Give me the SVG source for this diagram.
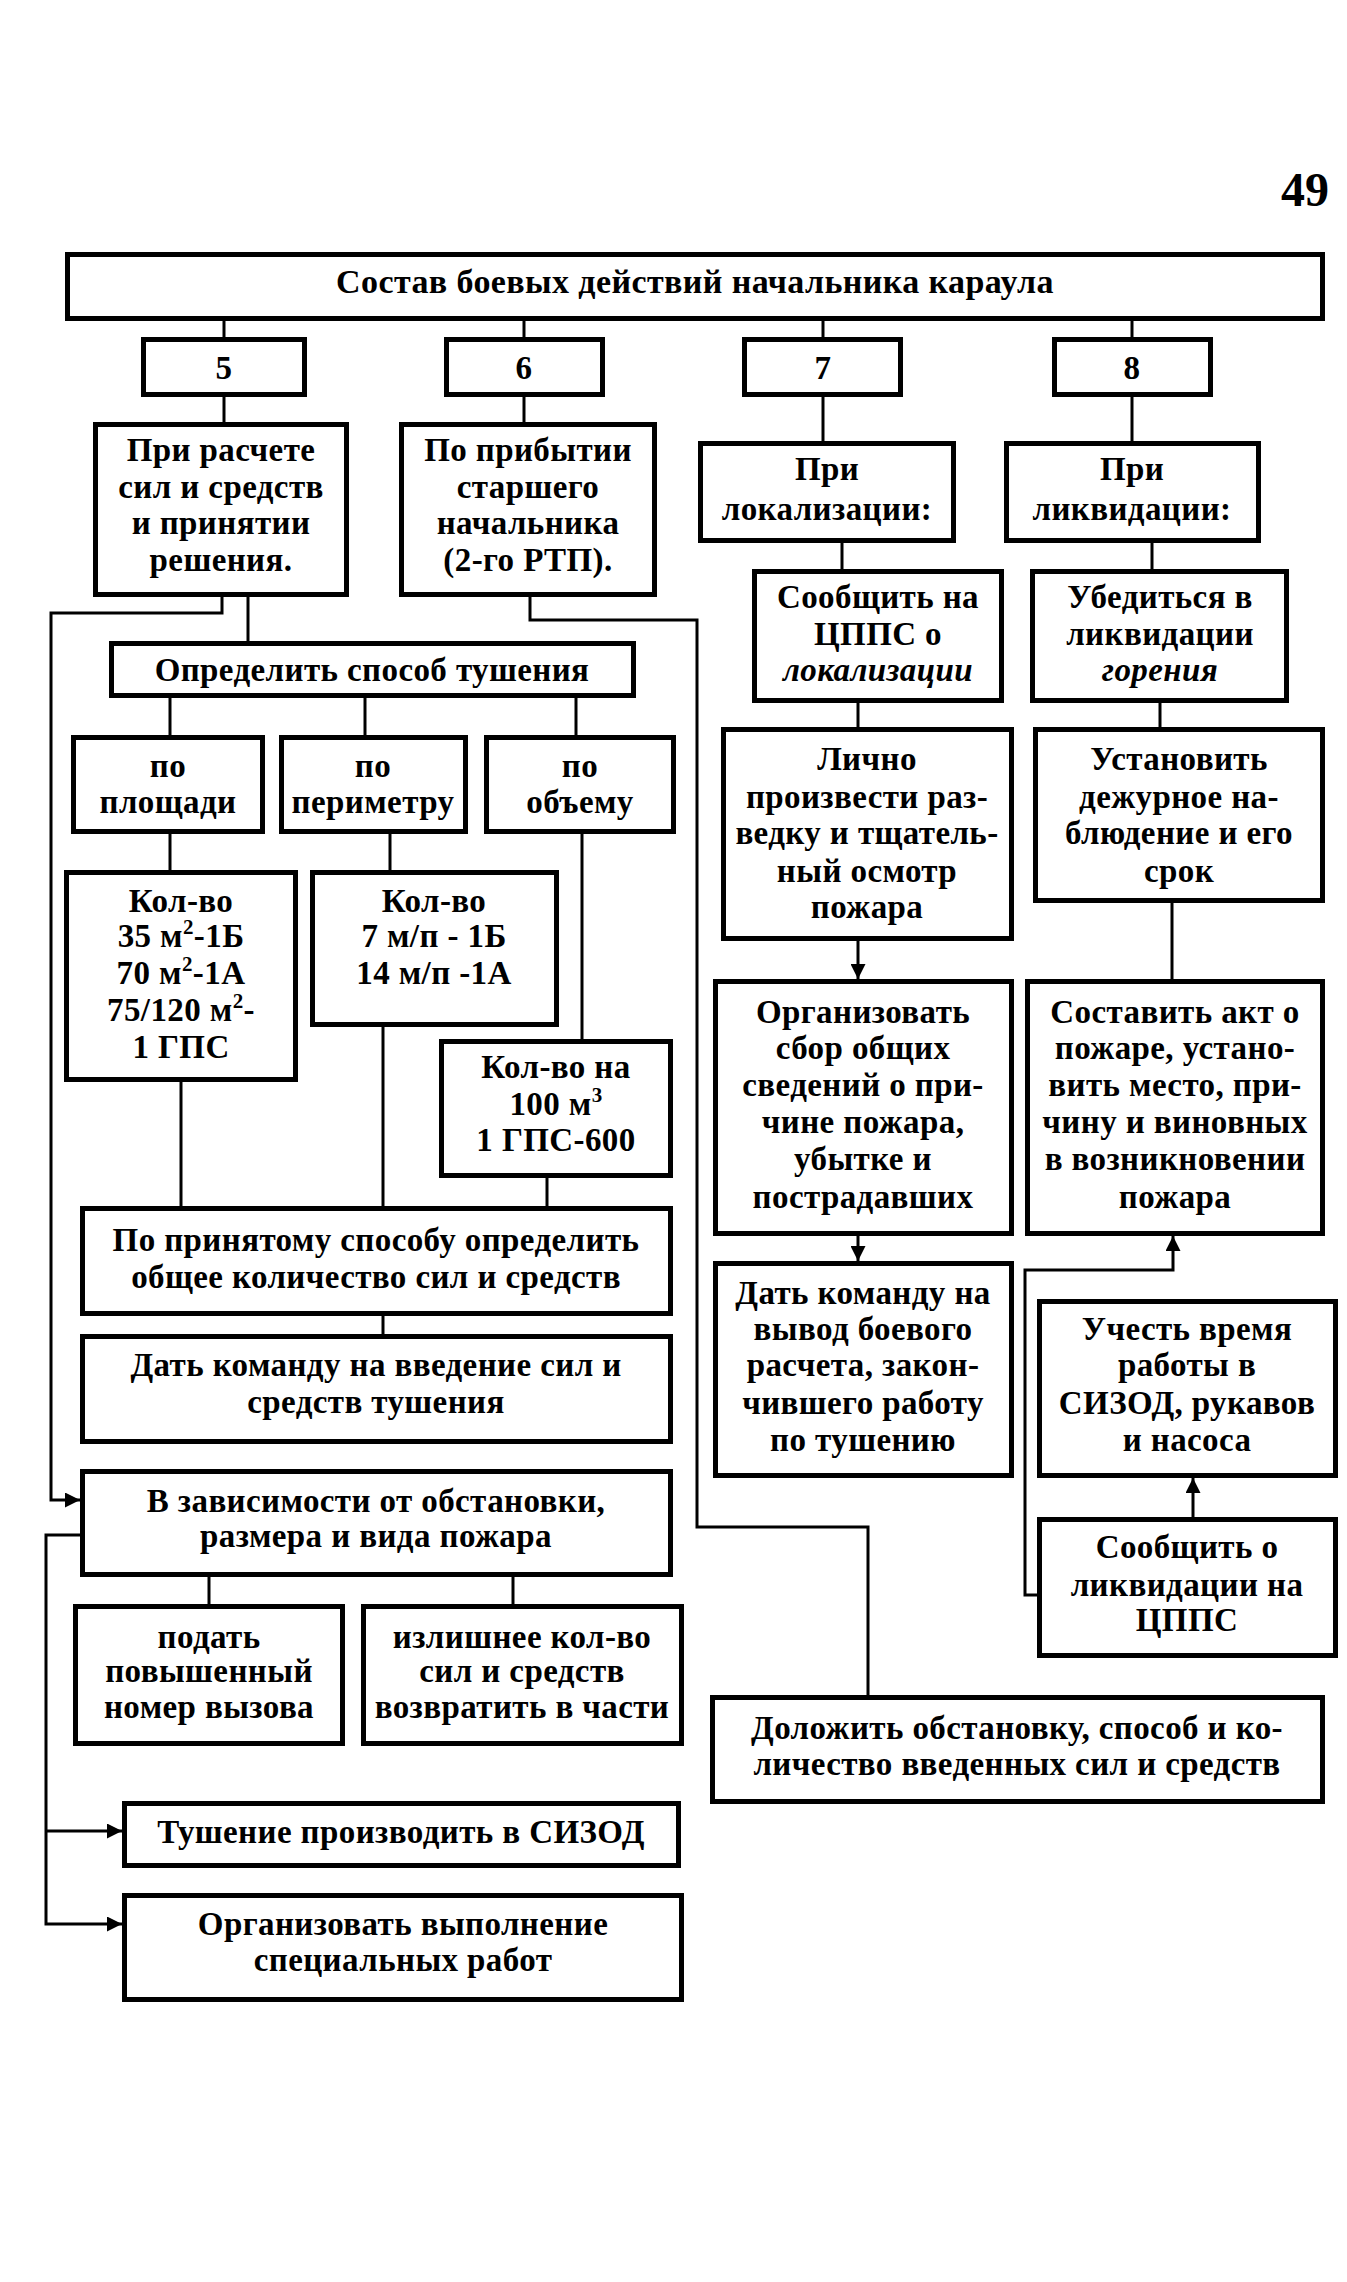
<svg xmlns="http://www.w3.org/2000/svg" width="1347" height="2282" viewBox="0 0 1347 2282">
<defs>
<style>
.box{fill:#fff;stroke:#000;stroke-width:5}
.ln{fill:none;stroke:#000;stroke-width:3}
.t{font-family:"Liberation Serif","Times New Roman",serif;font-weight:bold;font-size:33px;letter-spacing:0.4px;text-anchor:middle;fill:#000}
.i{font-style:italic}
.sup{font-size:21px}
</style>
<marker id="ah" viewBox="0 0 10 10" refX="10" refY="5" markerWidth="5" markerHeight="5" orient="auto" markerUnits="strokeWidth">
<path d="M0,0 L10,5 L0,10 z" fill="#000"/>
</marker>
</defs>
<rect width="1347" height="2282" fill="#fff"/>
<text class="t" x="1305" y="206" style="font-size:48px;letter-spacing:0">49</text>

<g id="connectors">
<path class="ln" d="M224,321 V337"/>
<path class="ln" d="M524,321 V337"/>
<path class="ln" d="M823,321 V337"/>
<path class="ln" d="M1132,321 V337"/>
<path class="ln" d="M224,397 V422"/>
<path class="ln" d="M524,397 V422"/>
<path class="ln" d="M823,397 V441"/>
<path class="ln" d="M1132,397 V441"/>
<path class="ln" d="M842,543 V569"/>
<path class="ln" d="M1152,543 V569"/>
<path class="ln" d="M248,597 V641"/>
<path class="ln" d="M222,597 V613 H51 V1500 H80" marker-end="url(#ah)"/>
<path class="ln" d="M530,597 V620 H697 V1527 H868 V1695"/>
<path class="ln" d="M170,698 V735"/>
<path class="ln" d="M365,698 V735"/>
<path class="ln" d="M576,698 V735"/>
<path class="ln" d="M170,834 V870"/>
<path class="ln" d="M390,834 V870"/>
<path class="ln" d="M582,834 V1039"/>
<path class="ln" d="M181,1082 V1206"/>
<path class="ln" d="M383,1027 V1206"/>
<path class="ln" d="M547,1178 V1206"/>
<path class="ln" d="M383,1316 V1334"/>
<path class="ln" d="M209,1577 V1604"/>
<path class="ln" d="M513,1577 V1604"/>
<path class="ln" d="M80,1535 H46 V1924 H122" marker-end="url(#ah)"/>
<path class="ln" d="M46,1831 H122" marker-end="url(#ah)"/>
<path class="ln" d="M858,703 V727"/>
<path class="ln" d="M1160,703 V727"/>
<path class="ln" d="M858,941 V979" marker-end="url(#ah)"/>
<path class="ln" d="M1172,903 V979"/>
<path class="ln" d="M858,1236 V1261" marker-end="url(#ah)"/>
<path class="ln" d="M1193,1517 V1478" marker-end="url(#ah)"/>
<path class="ln" d="M1037,1595 H1025 V1270 H1173 V1236" marker-end="url(#ah)"/>
</g>

<g id="title"><rect class="box" x="67.5" y="254.5" width="1255" height="64"/><text class="t" x="695" y="293" style="font-size:34px">Состав боевых действий начальника караула</text></g>
<g id="n5"><rect class="box" x="143.5" y="339.5" width="161" height="55"/><text class="t" x="224" y="379">5</text></g>
<g id="n6"><rect class="box" x="446.5" y="339.5" width="156" height="55"/><text class="t" x="524" y="379">6</text></g>
<g id="n7"><rect class="box" x="744.5" y="339.5" width="156" height="55"/><text class="t" x="823" y="379">7</text></g>
<g id="n8"><rect class="box" x="1054.5" y="339.5" width="156" height="55"/><text class="t" x="1132" y="379">8</text></g>

<g id="b5"><rect class="box" x="95.5" y="424.5" width="251" height="170"/>
<text class="t"><tspan x="221" y="461">При расчете</tspan><tspan x="221" y="498">сил и средств</tspan><tspan x="221" y="534">и принятии</tspan><tspan x="221" y="571">решения.</tspan></text></g>
<g id="b6"><rect class="box" x="401.5" y="424.5" width="253" height="170"/>
<text class="t"><tspan x="528" y="461">По прибытии</tspan><tspan x="528" y="498">старшего</tspan><tspan x="528" y="534">начальника</tspan><tspan x="528" y="571">(2-го РТП).</tspan></text></g>
<g id="b7"><rect class="box" x="700.5" y="443.5" width="253" height="97"/>
<text class="t"><tspan x="827" y="480">При</tspan><tspan x="827" y="520">локализации:</tspan></text></g>
<g id="b8"><rect class="box" x="1006.5" y="443.5" width="252" height="97"/>
<text class="t"><tspan x="1132" y="480">При</tspan><tspan x="1132" y="520">ликвидации:</tspan></text></g>
<g id="soobsh_lok"><rect class="box" x="754.5" y="571.5" width="247" height="129"/>
<text class="t"><tspan x="878" y="608">Сообщить на</tspan><tspan x="878" y="645">ЦППС о</tspan><tspan class="i" x="878" y="681">локализации</tspan></text></g>
<g id="ubeditsya"><rect class="box" x="1032.5" y="571.5" width="254" height="129"/>
<text class="t"><tspan x="1160" y="608">Убедиться в</tspan><tspan x="1160" y="645">ликвидации</tspan><tspan class="i" x="1160" y="681">горения</tspan></text></g>

<g id="opredelit"><rect class="box" x="111.5" y="643.5" width="522" height="52"/><text class="t" x="372" y="681">Определить способ тушения</text></g>
<g id="po_pl"><rect class="box" x="73.5" y="737.5" width="189" height="94"/>
<text class="t"><tspan x="168" y="777">по</tspan><tspan x="168" y="813">площади</tspan></text></g>
<g id="po_per"><rect class="box" x="281.5" y="737.5" width="184" height="94"/>
<text class="t"><tspan x="373" y="777">по</tspan><tspan x="373" y="813">периметру</tspan></text></g>
<g id="po_ob"><rect class="box" x="486.5" y="737.5" width="187" height="94"/>
<text class="t"><tspan x="580" y="777">по</tspan><tspan x="580" y="813">объему</tspan></text></g>

<g id="kolvo1"><rect class="box" x="66.5" y="872.5" width="229" height="207"/>
<text class="t"><tspan x="181" y="912">Кол-во</tspan><tspan x="181" y="947">35 м<tspan class="sup" dy="-13">2</tspan><tspan dy="13">-1Б</tspan></tspan><tspan x="181" y="984">70 м<tspan class="sup" dy="-13">2</tspan><tspan dy="13">-1А</tspan></tspan><tspan x="181" y="1021">75/120 м<tspan class="sup" dy="-13">2</tspan><tspan dy="13">-</tspan></tspan><tspan x="181" y="1058">1 ГПС</tspan></text></g>
<g id="kolvo2"><rect class="box" x="312.5" y="872.5" width="244" height="152"/>
<text class="t"><tspan x="434" y="912">Кол-во</tspan><tspan x="434" y="947">7 м/п - 1Б</tspan><tspan x="434" y="984">14 м/п -1А</tspan></text></g>
<g id="kolvo3"><rect class="box" x="441.5" y="1041.5" width="229" height="134"/>
<text class="t"><tspan x="556" y="1078">Кол-во на</tspan><tspan x="556" y="1115">100 м<tspan class="sup" dy="-13">3</tspan></tspan><tspan x="556" y="1151">1 ГПС-600</tspan></text></g>

<g id="po_prin"><rect class="box" x="82.5" y="1208.5" width="588" height="105"/>
<text class="t"><tspan x="376" y="1251">По принятому способу определить</tspan><tspan x="376" y="1288">общее количество сил и средств</tspan></text></g>
<g id="dat1"><rect class="box" x="82.5" y="1336.5" width="588" height="105"/>
<text class="t"><tspan x="376" y="1376">Дать команду на введение сил и</tspan><tspan x="376" y="1413">средств тушения</tspan></text></g>
<g id="v_zav"><rect class="box" x="82.5" y="1471.5" width="588" height="103"/>
<text class="t"><tspan x="376" y="1512">В зависимости от обстановки,</tspan><tspan x="376" y="1547">размера и вида пожара</tspan></text></g>
<g id="podat"><rect class="box" x="75.5" y="1606.5" width="267" height="137"/>
<text class="t"><tspan x="209" y="1648">подать</tspan><tspan x="209" y="1682">повышенный</tspan><tspan x="209" y="1718">номер вызова</tspan></text></g>
<g id="izl"><rect class="box" x="363.5" y="1606.5" width="318" height="137"/>
<text class="t"><tspan x="522" y="1648">излишнее кол-во</tspan><tspan x="522" y="1682">сил и средств</tspan><tspan x="522" y="1718">возвратить в части</tspan></text></g>
<g id="tush"><rect class="box" x="124.5" y="1803.5" width="554" height="62"/><text class="t" x="401" y="1843">Тушение производить в СИЗОД</text></g>
<g id="org_vyp"><rect class="box" x="124.5" y="1895.5" width="557" height="104"/>
<text class="t"><tspan x="403" y="1935">Организовать выполнение</tspan><tspan x="403" y="1971">специальных работ</tspan></text></g>

<g id="lichno"><rect class="box" x="723.5" y="729.5" width="288" height="209"/>
<text class="t"><tspan x="867" y="770">Лично</tspan><tspan x="867" y="808">произвести раз-</tspan><tspan x="867" y="844">ведку и тщатель-</tspan><tspan x="867" y="882">ный осмотр</tspan><tspan x="867" y="918">пожара</tspan></text></g>
<g id="ustan"><rect class="box" x="1035.5" y="729.5" width="287" height="171"/>
<text class="t"><tspan x="1179" y="770">Установить</tspan><tspan x="1179" y="808">дежурное на-</tspan><tspan x="1179" y="844">блюдение и его</tspan><tspan x="1179" y="882">срок</tspan></text></g>
<g id="org_sbor"><rect class="box" x="715.5" y="981.5" width="296" height="252"/>
<text class="t"><tspan x="863" y="1023">Организовать</tspan><tspan x="863" y="1059">сбор общих</tspan><tspan x="863" y="1096">сведений о при-</tspan><tspan x="863" y="1133">чине пожара,</tspan><tspan x="863" y="1170">убытке и</tspan><tspan x="863" y="1208">пострадавших</tspan></text></g>
<g id="sostav"><rect class="box" x="1027.5" y="981.5" width="295" height="252"/>
<text class="t"><tspan x="1175" y="1023">Составить акт о</tspan><tspan x="1175" y="1059">пожаре, устано-</tspan><tspan x="1175" y="1096">вить место, при-</tspan><tspan x="1175" y="1133">чину и виновных</tspan><tspan x="1175" y="1170">в возникновении</tspan><tspan x="1175" y="1208">пожара</tspan></text></g>
<g id="dat2"><rect class="box" x="715.5" y="1263.5" width="296" height="212"/>
<text class="t"><tspan x="863" y="1304">Дать команду на</tspan><tspan x="863" y="1340">вывод боевого</tspan><tspan x="863" y="1376">расчета, закон-</tspan><tspan x="863" y="1414">чившего работу</tspan><tspan x="863" y="1451">по тушению</tspan></text></g>
<g id="uchest"><rect class="box" x="1039.5" y="1301.5" width="296" height="174"/>
<text class="t"><tspan x="1187" y="1340">Учесть время</tspan><tspan x="1187" y="1376">работы в</tspan><tspan x="1187" y="1414">СИЗОД, рукавов</tspan><tspan x="1187" y="1451">и насоса</tspan></text></g>
<g id="soob_likv"><rect class="box" x="1039.5" y="1519.5" width="296" height="136"/>
<text class="t"><tspan x="1187" y="1558">Сообщить о</tspan><tspan x="1187" y="1596">ликвидации на</tspan><tspan x="1187" y="1631">ЦППС</tspan></text></g>
<g id="dolozh"><rect class="box" x="712.5" y="1697.5" width="610" height="104"/>
<text class="t"><tspan x="1017" y="1739">Доложить обстановку, способ и ко-</tspan><tspan x="1017" y="1775">личество введенных сил и средств</tspan></text></g>
</svg>
